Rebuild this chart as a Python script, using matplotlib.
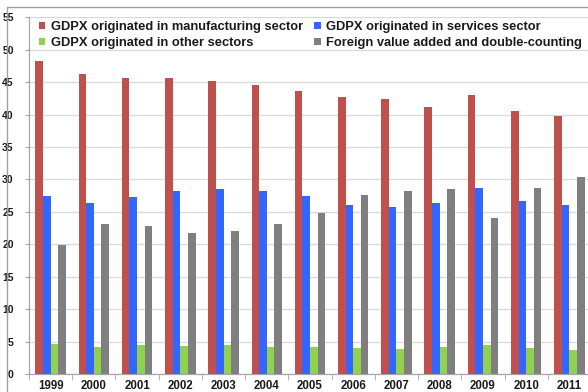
import matplotlib
matplotlib.use('Agg')
import numpy as np
import matplotlib.pyplot as plt
from matplotlib.patches import Rectangle
from matplotlib.ticker import MultipleLocator, FixedLocator

plt.rcParams['font.family'] = ['Liberation Sans', 'DejaVu Sans']
plt.rcParams['font.weight'] = 'bold'

years = ['1999', '2000', '2001', '2002', '2003', '2004', '2005',
         '2006', '2007', '2008', '2009', '2010', '2011']
manufacturing = [48.3, 46.2, 45.7, 45.7, 45.2, 44.5, 43.7, 42.7, 42.4, 41.2, 43.0, 40.6, 39.8]
services = [27.4, 26.4, 27.3, 28.3, 28.6, 28.3, 27.5, 26.0, 25.7, 26.3, 28.7, 26.7, 26.1]
other = [4.6, 4.2, 4.5, 4.3, 4.4, 4.1, 4.1, 4.0, 3.9, 4.1, 4.4, 4.0, 3.7]
foreign = [19.9, 23.2, 22.8, 21.8, 22.1, 23.2, 24.9, 27.6, 28.2, 28.5, 24.0, 28.7, 30.4]

series = [
    ('GDPX originated in manufacturing sector', manufacturing, '#C0504D'),
    ('GDPX originated in services sector', services, '#3366FF'),
    ('GDPX originated in other sectors', other, '#92D050'),
    ('Foreign value added and double-counting', foreign, '#7F7F7F'),
]

fig = plt.figure(figsize=(5.88, 3.92), dpi=100)
ax = fig.add_axes([29 / 588, 18 / 392, 562 / 588, (374 - 17.4) / 392])

x = np.arange(len(years))
w = 0.176
bars = {}
for i, (name, vals, col) in enumerate(series):
    bars[name] = ax.bar(x + (i - 1.5) * w, vals, width=w, color=col, zorder=3, label=name)

ax.set_xlim(-0.5, len(years) - 0.5)
ax.set_ylim(0, 55)
ax.yaxis.set_major_locator(MultipleLocator(5))
ax.yaxis.grid(True, color='#D9D9D9', linewidth=0.9, zorder=0)

ax.set_xticks(x)
ax.set_xticklabels(years)
ax.xaxis.set_minor_locator(FixedLocator(np.arange(-0.5, len(years), 1.0)))
ax.tick_params(axis='x', which='major', length=0, pad=4, labelsize=8.3, colors='#1A1A1A')
ax.tick_params(axis='x', which='minor', length=4, color='#A6A6A6', direction='out')
ax.tick_params(axis='y', length=3, color='#A6A6A6', pad=8, labelsize=7.5, labelcolor='#1A1A1A')

for side in ['top', 'right']:
    ax.spines[side].set_visible(False)
for side in ['left', 'bottom']:
    ax.spines[side].set_color('#A6A6A6')
    ax.spines[side].set_linewidth(0.9)

# legend: two rows, row-major order
order = [series[0][0], series[2][0], series[1][0], series[3][0]]
leg = ax.legend([bars[n] for n in order], order, ncol=2, loc='upper left',
                bbox_to_anchor=(39 / 588, 1 - 21 / 392), bbox_transform=fig.transFigure,
                frameon=False, fontsize=9.3, handlelength=0.5, handleheight=0.5,
                handletextpad=0.4, columnspacing=0.9, labelspacing=0.32,
                borderaxespad=0, borderpad=0)
for t in leg.get_texts():
    t.set_color('#1A1A1A')

# outer chart border
fig.patches.append(Rectangle((6.5 / 588, -0.1), 1.2, 1.1 - 7 / 392, transform=fig.transFigure,
                             fill=False, edgecolor='#A0A0A0', linewidth=1.0))

fig.savefig('out.png', dpi=100)
